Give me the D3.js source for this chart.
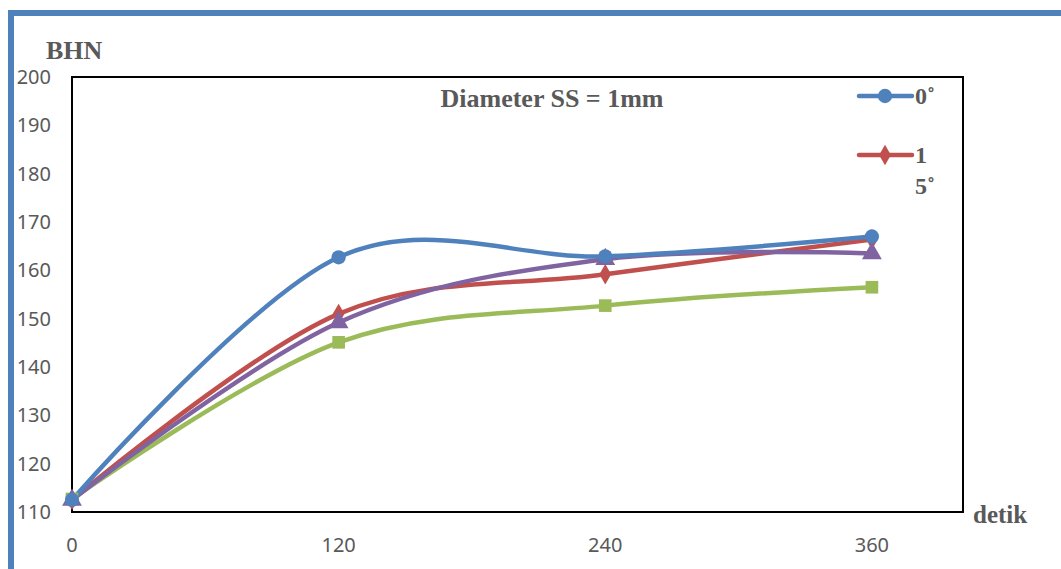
<!DOCTYPE html>
<html lang="en">
<head>
<meta charset="utf-8">
<title>BHN</title>
<script src="https://cdn.jsdelivr.net/npm/d3@7"></script>
<style>
  body { margin: 0; background: #fff; }
  .tick-label { font-family: "Noto Sans", "Open Sans", sans-serif; font-size: 20px; fill: #595959; }
  .ttl { font-family: "Liberation Serif", "DejaVu Serif", serif; font-weight: bold; fill: #595959; }
</style>
</head>
<body>
<div id="chart"></div>
<script>
// time in seconds (detik)
var detik = [0, 120, 240, 360];
var yTicks = [110, 120, 130, 140, 150, 160, 170, 180, 190, 200];

// hardness values per series
var deg0  = [112.5, 162.7, 162.9, 167.0];
var deg15 = [112.5, 151.0, 159.2, 166.4];
var seriesC = [112.7, 145.1, 152.7, 156.5];
var seriesD = [112.5, 149.2, 162.3, 163.5];

var series = [
  { name: "C", values: seriesC, color: "#9bbb59", marker: d3.symbolSquare, size: 160 },
  { name: "15", values: deg15, color: "#c0504d", marker: d3.symbolDiamond, size: 120 },
  { name: "D", values: seriesD, color: "#8064a2", marker: d3.symbolTriangle, size: 170 },
  { name: "0", values: deg0, color: "#4f81bd", marker: d3.symbolCircle, size: 160 }
];

var width = 1061, height = 569;
var margin = { left: 72, top: 77, right: 98, bottom: 57 };

var svg = d3.select("#chart").append("svg")
    .attr("width", width)
    .attr("height", height);

// outer blue frame (top + left)
svg.append("rect").attr("x", 8).attr("y", 10).attr("width", width - 8).attr("height", 6).attr("fill", "#4f81bd");
svg.append("rect").attr("x", 8).attr("y", 10).attr("width", 6).attr("height", height - 10).attr("fill", "#4f81bd");

var x = d3.scaleLinear().domain([0, 401]).range([margin.left, width - margin.right]);
var y = d3.scaleLinear().domain([110, 200]).range([height - margin.bottom, margin.top]);

// plot frame
svg.append("rect")
    .attr("x", x(0)).attr("y", y(200))
    .attr("width", x(401) - x(0)).attr("height", y(110) - y(200))
    .attr("fill", "none").attr("stroke", "#000").attr("stroke-width", 2);

svg.selectAll(".ylab").data(yTicks).enter().append("text")
    .attr("class", "tick-label")
    .attr("x", 51)
    .attr("y", function(d) { return y(d); })
    .attr("dy", "0.35em")
    .attr("text-anchor", "end")
    .text(function(d) { return d; });

svg.selectAll(".xlab").data(detik).enter().append("text")
    .attr("class", "tick-label")
    .attr("x", function(d) { return x(d); })
    .attr("y", 545)
    .attr("dy", "0.35em")
    .attr("text-anchor", "middle")
    .text(function(d) { return d; });

svg.append("text").attr("class", "ttl").attr("x", 46).attr("y", 59)
    .style("font-size", "26px").text("BHN");
svg.append("text").attr("class", "ttl").attr("x", 973).attr("y", 523)
    .style("font-size", "25px").text("detik");
svg.append("text").attr("class", "ttl").attr("x", 552).attr("y", 107)
    .attr("text-anchor", "middle").style("font-size", "26px").text("Diameter SS = 1mm");

var line = d3.line()
    .x(function(d, i) { return x(detik[i]); })
    .y(function(d) { return y(d); })
    .curve(d3.curveCardinal.tension(0));

series.forEach(function(s) {
  svg.append("path")
      .attr("d", line(s.values))
      .attr("fill", "none")
      .attr("stroke", s.color)
      .attr("stroke-width", 4.5)
      .attr("stroke-linecap", "round");
});

series.forEach(function(s) {
  svg.selectAll(null).data(s.values).enter().append("path")
      .attr("d", d3.symbol().type(s.marker).size(s.size))
      .attr("transform", function(d, i) { return "translate(" + x(detik[i]) + "," + y(d) + ")"; })
      .attr("fill", s.color);
});

// legend (only two entries visible)
var legend = [
  { s: series[3], y: 96, lines: ["0˚"] },
  { s: series[1], y: 155, lines: ["1", "5˚"] }
];
legend.forEach(function(l) {
  svg.append("line")
      .attr("x1", 859).attr("x2", 912).attr("y1", l.y).attr("y2", l.y)
      .attr("stroke", l.s.color).attr("stroke-width", 4.5).attr("stroke-linecap", "round");
  svg.append("path")
      .attr("d", d3.symbol().type(l.s.marker).size(l.s.size))
      .attr("transform", "translate(885," + l.y + ")")
      .attr("fill", l.s.color);
  l.lines.forEach(function(t, k) {
    svg.append("text").attr("class", "ttl")
        .attr("x", 915).attr("y", l.y + 8 + k * 31)
        .style("font-size", "24px").text(t);
  });
});
</script>
</body>
</html>
